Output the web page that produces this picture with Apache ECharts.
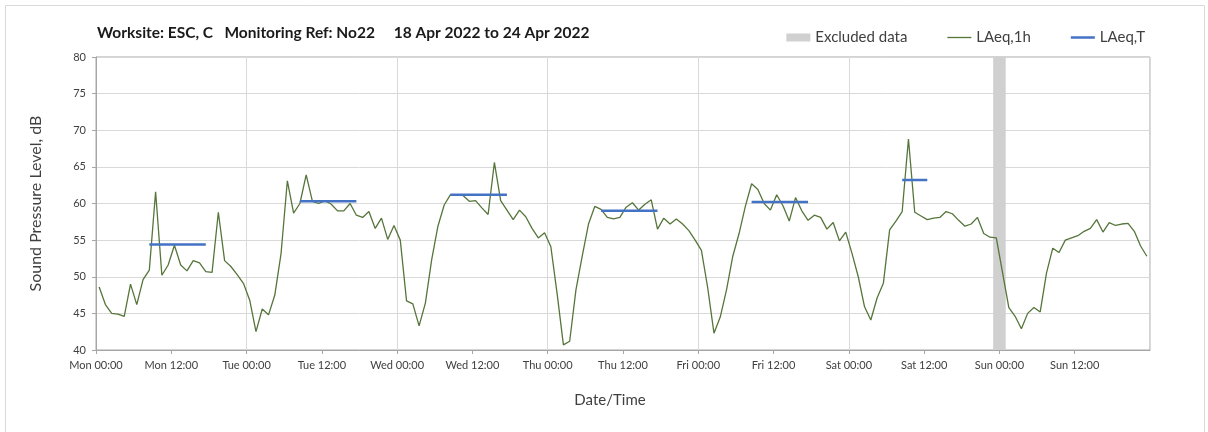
<!DOCTYPE html>
<html>
<head>
<meta charset="utf-8">
<script src="https://cdn.jsdelivr.net/npm/echarts@6/dist/echarts.min.js"></script>
<style>
html,body{margin:0;padding:0;background:#fff;}
#chart{width:1208px;height:432px;}
</style>
</head>
<body>
<div id="chart"></div>
<script>
// ---- data ----
const dayNames = ['Mon', 'Tue', 'Wed', 'Thu', 'Fri', 'Sat', 'Sun'];
const tickTimes = ['00:00', '12:00'];
// hourly LAeq,1h values, Mon 00:00 .. Sun 23:00 (null = excluded hour)
const laeqMon = [48.6, 46.2, 45.0, 44.9, 44.6, 49.0, 46.2, 49.6, 50.9, 61.6, 50.2, 51.6, 54.3, 51.6, 50.8, 52.2, 51.9, 50.7, 50.6, 58.8, 52.2, 51.4, 50.3, 49.1];
const laeqTue = [46.8, 42.5, 45.6, 44.8, 47.5, 53.2, 63.1, 58.7, 60.0, 63.9, 60.3, 60.0, 60.4, 59.9, 59.0, 59.0, 60.0, 58.4, 58.1, 58.9, 56.6, 58.0, 55.1, 57.0];
const laeqWed = [55.0, 46.7, 46.3, 43.3, 46.4, 52.3, 56.9, 59.8, 61.2, 61.2, 61.1, 60.3, 60.4, 59.4, 58.5, 65.6, 60.4, 59.1, 57.8, 59.1, 58.2, 56.6, 55.3, 56.0];
const laeqThu = [54.1, 47.7, 40.7, 41.2, 48.2, 52.8, 57.2, 59.6, 59.2, 58.1, 57.9, 58.1, 59.5, 60.1, 59.1, 59.9, 60.5, 56.5, 58.0, 57.2, 57.9, 57.2, 56.3, 55.0];
const laeqFri = [53.6, 48.5, 42.3, 44.5, 48.2, 52.8, 55.9, 59.6, 62.7, 61.9, 60.0, 59.1, 61.2, 59.7, 57.6, 60.8, 59.0, 57.7, 58.4, 58.1, 56.5, 57.4, 54.9, 56.1];
const laeqSat = [53.2, 50.0, 45.9, 44.1, 47.1, 49.1, 56.4, 57.6, 58.9, 68.8, 58.8, 58.3, 57.8, 58.0, 58.1, 58.9, 58.6, 57.7, 56.9, 57.2, 58.1, 55.9, 55.4, 55.3];
const laeqSun = [null, 45.8, 44.6, 42.9, 45.0, 45.8, 45.2, 50.5, 53.9, 53.3, 55.0, 55.3, 55.6, 56.2, 56.6, 57.8, 56.1, 57.4, 57.0, 57.2, 57.3, 56.2, 54.2, 52.8];
// LAeq,T daytime periods: day index, first hour, last hour, level
const periodDay = [0, 1, 2, 3, 4, 5];
const periodFirstHour = [8, 8, 8, 8, 8, 8];
const periodLastHour = [17, 17, 17, 17, 17, 12];
const periodLevel = [54.4, 60.3, 61.2, 59.0, 60.2, 63.2];
// excluded data window (hours from Mon 00:00)
const excludedFrom = [143];
const excludedTo = [145];

// ---- build ----
const hourly = [].concat(laeqMon, laeqTue, laeqWed, laeqThu, laeqFri, laeqSat, laeqSun);
const hourlyData = hourly.map((v, i) => [i + 0.5, v == null ? '-' : v]);
const periodData = [];
periodDay.forEach((d, k) => {
  periodData.push([d * 24 + periodFirstHour[k] + 0.5, periodLevel[k]]);
  periodData.push([d * 24 + periodLastHour[k] + 0.5, periodLevel[k]]);
  periodData.push([d * 24 + periodLastHour[k] + 0.5, '-']);
});
const excludedAreas = excludedFrom.map((f, k) => [{xAxis: f}, {xAxis: excludedTo[k]}]);

const GREEN = '#55753a';
const BLUE = '#4472c4';
const FONT = 'Lato, "Open Sans", sans-serif';
const chart = echarts.init(document.getElementById('chart'), null, {renderer: 'canvas'});
chart.setOption({
  animation: false,
  textStyle: {fontFamily: FONT},
  graphic: [{
    type: 'rect', shape: {x: 5.5, y: 5.5, width: 1199, height: 440},
    style: {fill: 'none', stroke: '#d9d9d9', lineWidth: 1}, silent: true, z: -1
  }],
  title: {
    text: 'Worksite: ESC, C   Monitoring Ref: No22     18 Apr 2022 to 24 Apr 2022',
    left: 92, top: 20,
    textStyle: {fontFamily: FONT, fontSize: 15.5, fontWeight: 'bold', color: '#1a1a1a'}
  },
  legend: {
    right: 58, top: 25,
    itemWidth: 24, itemHeight: 8, itemGap: 40,
    symbolKeepAspect: true,
    itemStyle: {borderWidth: 0},
    textStyle: {fontFamily: FONT, fontSize: 15, color: '#404040'},
    data: [
      {name: 'Excluded data', icon: 'rect'},
      {name: 'LAeq,1h', icon: 'path://M0,0H24V1.3H0Z'},
      {name: 'LAeq,T', icon: 'path://M0,0H24V2.5H0Z'}
    ]
  },
  grid: {
    left: 96, right: 58, top: 57, bottom: 82,
    show: true, borderColor: '#a6a6a6', borderWidth: 1, containLabel: false
  },
  xAxis: [{
    type: 'value', min: 0, max: 168, interval: 12,
    name: 'Date/Time', nameLocation: 'middle', nameGap: 43,
    nameTextStyle: {fontFamily: FONT, fontSize: 15, color: '#404040', padding: [0, 26, 0, 0]},
    axisLine: {show: true, lineStyle: {color: '#a6a6a6'}},
    axisTick: {show: true, length: 4, lineStyle: {color: '#a6a6a6'}},
    splitLine: {show: false},
    axisLabel: {
      fontFamily: FONT, fontSize: 11, color: '#404040', margin: 10,
      showMaxLabel: false,
      formatter: v => v >= 168 ? '' : dayNames[Math.floor(v / 24)] + ' ' + tickTimes[(v % 24) / 12]
    }
  }, {
    type: 'value', min: 0, max: 168, interval: 24, position: 'bottom',
    axisLine: {show: false}, axisTick: {show: false}, axisLabel: {show: false},
    splitLine: {show: true, lineStyle: {color: '#d9d9d9', width: 1}}
  }],
  yAxis: {
    type: 'value', min: 40, max: 80, interval: 5,
    name: 'Sound Pressure Level, dB', nameLocation: 'middle', nameGap: 52,
    nameTextStyle: {fontFamily: FONT, fontSize: 16, color: '#404040'},
    axisLine: {show: true, lineStyle: {color: '#a6a6a6'}},
    axisTick: {show: true, length: 4, lineStyle: {color: '#a6a6a6'}},
    splitLine: {show: true, lineStyle: {color: '#d9d9d9', width: 1}},
    axisLabel: {fontFamily: FONT, fontSize: 11, color: '#404040', margin: 10}
  },
  series: [{
    name: 'Excluded data', type: 'bar', data: [],
    itemStyle: {color: '#d0d0d0'},
    markArea: {silent: true, itemStyle: {color: '#d0d0d0'}, data: excludedAreas}
  }, {
    name: 'LAeq,1h', type: 'line', data: hourlyData,
    symbol: 'none', connectNulls: true,
    lineStyle: {color: GREEN, width: 1.3},
    itemStyle: {color: GREEN}, z: 3
  }, {
    name: 'LAeq,T', type: 'line', data: periodData,
    symbol: 'none', connectNulls: false,
    lineStyle: {color: BLUE, width: 2.5},
    itemStyle: {color: BLUE}, z: 4
  }]
});
</script>
</body>
</html>
